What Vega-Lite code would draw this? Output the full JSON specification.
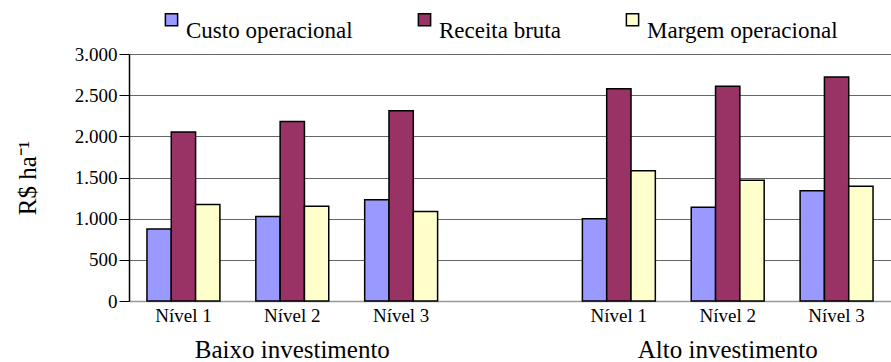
{
  "$schema": "https://vega.github.io/schema/vega-lite/v6.json",
  "autosize": {"type": "none"},
  "padding": {"left": 129, "top": 54, "right": 0, "bottom": 61},
  "width": 762,
  "height": 247,
  "background": "white",
  "config": {
    "font": "Liberation Serif",
    "view": {"stroke": null},
    "axis": {"labelColor": "black", "titleColor": "black", "labelFont": "Liberation Serif", "titleFont": "Liberation Serif"},
    "legend": {"labelFont": "Liberation Serif", "titleFont": "Liberation Serif"}
  },
  "datasets": {
    "valores": [
      {"slot": "B1", "serie": "Custo operacional", "valor": 873},
      {"slot": "B1", "serie": "Receita bruta", "valor": 2054},
      {"slot": "B1", "serie": "Margem operacional", "valor": 1172},
      {"slot": "B2", "serie": "Custo operacional", "valor": 1027},
      {"slot": "B2", "serie": "Receita bruta", "valor": 2179},
      {"slot": "B2", "serie": "Margem operacional", "valor": 1152},
      {"slot": "B3", "serie": "Custo operacional", "valor": 1229},
      {"slot": "B3", "serie": "Receita bruta", "valor": 2312},
      {"slot": "B3", "serie": "Margem operacional", "valor": 1087},
      {"slot": "A1", "serie": "Custo operacional", "valor": 998},
      {"slot": "A1", "serie": "Receita bruta", "valor": 2579},
      {"slot": "A1", "serie": "Margem operacional", "valor": 1581},
      {"slot": "A2", "serie": "Custo operacional", "valor": 1140},
      {"slot": "A2", "serie": "Receita bruta", "valor": 2608},
      {"slot": "A2", "serie": "Margem operacional", "valor": 1468},
      {"slot": "A3", "serie": "Custo operacional", "valor": 1338},
      {"slot": "A3", "serie": "Receita bruta", "valor": 2721},
      {"slot": "A3", "serie": "Margem operacional", "valor": 1395}
    ],
    "grupos": [
      {"slot": "B2", "grupo": "Baixo investimento"},
      {"slot": "A2", "grupo": "Alto investimento"}
    ]
  },
  "layer": [
    {
      "data": {"name": "valores"},
      "mark": {"type": "bar", "stroke": "black", "strokeWidth": 1.5},
      "encoding": {
        "x": {
          "field": "slot",
          "type": "nominal",
          "scale": {"domain": ["B1", "B2", "B3", "gap", "A1", "A2", "A3"], "paddingInner": 0.33, "paddingOuter": 0.165},
          "axis": {
            "orient": "bottom",
            "title": null,
            "labelAngle": 0,
            "labelFont": "Liberation Serif",
            "labelFontSize": 19,
            "labelPadding": 5,
            "ticks": false,
            "domainColor": "#999999",
            "domainWidth": 1.5,
            "labelExpr": "datum.value == 'gap' ? '' : 'Nível ' + substring(datum.value, 1, 2)"
          }
        },
        "xOffset": {
          "field": "serie",
          "type": "nominal",
          "sort": ["Custo operacional", "Receita bruta", "Margem operacional"],
          "scale": {"paddingInner": 0, "paddingOuter": 0}
        },
        "y": {
          "field": "valor",
          "type": "quantitative",
          "scale": {"domain": [0, 3000], "nice": false},
          "axis": {
            "values": [0, 500, 1000, 1500, 2000, 2500, 3000],
            "title": "R$ ha⁻¹",
            "titleFont": "Liberation Serif",
            "titleFontSize": 25,
            "titleFontWeight": "normal",
            "titlePadding": 34,
            "labelFont": "Liberation Serif",
            "labelFontSize": 19,
            "labelPadding": 2,
            "tickSize": 10,
            "tickColor": "black",
            "domainColor": "black",
            "domainWidth": 1.5,
            "grid": true,
            "gridColor": "#666666",
            "gridWidth": 1.2,
            "gridOpacity": 1,
            "labelExpr": "replace(format(datum.value, ','), ',', '.')"
          }
        },
        "color": {
          "field": "serie",
          "type": "nominal",
          "sort": ["Custo operacional", "Receita bruta", "Margem operacional"],
          "scale": {
            "domain": ["Custo operacional", "Receita bruta", "Margem operacional"],
            "range": ["#9999FF", "#993366", "#FFFFCC"]
          },
          "legend": {
            "title": null,
            "orient": "none",
            "direction": "horizontal",
            "legendX": 31,
            "legendY": -46,
            "symbolType": "square",
            "symbolSize": 150,
            "symbolStrokeColor": "black",
            "symbolStrokeWidth": 1.5,
            "symbolOpacity": 1,
            "labelFont": "Liberation Serif",
            "labelFontSize": 23,
            "labelColor": "black",
            "labelBaseline": "top",
            "labelOffset": 3,
            "labelLimit": 400,
            "columnPadding": 60
          }
        }
      }
    },
    {
      "data": {"name": "grupos"},
      "mark": {"type": "point", "opacity": 0},
      "encoding": {
        "x": {
          "field": "slot",
          "type": "nominal",
          "axis": {
            "orient": "bottom",
            "offset": 36,
            "title": null,
            "domain": false,
            "ticks": false,
            "labelAngle": 0,
            "labelFont": "Liberation Serif",
            "labelFontSize": 25,
            "labelPadding": 0,
            "labelLimit": 400,
            "labelExpr": "datum.value == 'B2' ? 'Baixo investimento' : datum.value == 'A2' ? 'Alto investimento' : ''"
          }
        },
        "y": {"datum": 0, "type": "quantitative"}
      }
    }
  ],
  "resolve": {"axis": {"x": "independent"}}
}
